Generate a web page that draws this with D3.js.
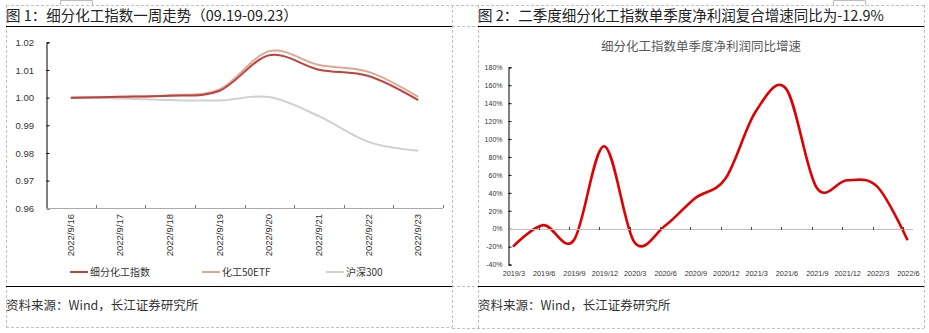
<!DOCTYPE html>
<html><head><meta charset="utf-8">
<script src="https://cdn.jsdelivr.net/npm/d3@7"></script>
<style>
html,body{margin:0;padding:0;background:#fff;}
svg{display:block;font-family:"Liberation Sans",Arial,"Noto Sans CJK SC",sans-serif;}
</style></head>
<body>
<svg id="c" width="929" height="333"></svg>
<script>
// ---- Chart 1 data ----
const dates = ["2022/9/16","2022/9/17","2022/9/18","2022/9/19","2022/9/20","2022/9/21","2022/9/22","2022/9/23"];
const chemIndex = [1.000, 1.0003, 1.0007, 1.0025, 1.0153, 1.0101, 1.0078, 0.9991];
const chemETF   = [1.000, 1.0003, 1.0009, 1.0030, 1.0168, 1.0118, 1.0093, 1.0003];
const hs300     = [1.000, 0.9997, 0.9991, 0.9990, 1.0002, 0.9933, 0.9840, 0.9808];
const seriesNames = ["细分化工指数","化工50ETF","沪深300"];
const yTicks1 = [0.96,0.97,0.98,0.99,1.00,1.01,1.02];

// ---- Chart 2 data ----
const quarters = ["2019/3","2019/6","2019/9","2019/12","2020/3","2020/6","2020/9","2020/12","2021/3","2021/6","2021/9","2021/12","2022/3","2022/6"];
const profitGrowth = [-20, 4, -13, 92, -15, 3, 34, 56, 131, 156, 46, 54, 47, -12.9];
const yTicks2 = [-40,-20,0,20,40,60,80,100,120,140,160,180];

const svg = d3.select("#c");
const dash = "3,2", dashCol = "#c0c0c0";
const cjk = '"Noto Sans CJK SC","Liberation Sans",sans-serif';

function hline(x1,x2,y,col,dashed,w){svg.append("line").attr("x1",x1).attr("x2",x2).attr("y1",y).attr("y2",y).attr("stroke",col).attr("stroke-width",w||1).attr("stroke-dasharray",dashed?dash:null).attr("shape-rendering","crispEdges");}
function vline(x,y1,y2,col,dashed,w){svg.append("line").attr("x1",x).attr("x2",x).attr("y1",y1).attr("y2",y2).attr("stroke",col).attr("stroke-width",w||1).attr("stroke-dasharray",dashed?dash:null).attr("shape-rendering","crispEdges");}

// frames
hline(6,924,5.5,dashCol,true);
vline(6.5,5,327,dashCol,true);
vline(452.5,5,327,dashCol,true);
vline(478.5,5,328,dashCol,true);
vline(924.5,5,328,dashCol,true);
hline(6,452,327.5,dashCol,true);
hline(452,924,328.5,dashCol,true);
hline(452,478,26.5,dashCol,true);
hline(452,478,286.5,dashCol,true);
hline(6,452,26.5,"#000",false,1.5);
hline(6,452,286.5,"#000",false,1.5);
hline(478,924,26.5,"#000",false,1.5);
hline(478,924,286.5,"#000",false,1.5);
// small residual boxes at top
svg.append("path").attr("d","M60.5,5 V0.5 H92.5 V5").attr("fill","none").attr("stroke","#bbb");
svg.append("path").attr("d","M833.5,5 V0.5 H865.5 V5").attr("fill","none").attr("stroke","#bbb");

// titles
svg.append("text").attr("x",6).attr("y",20.5).attr("font-family",cjk).attr("font-size",14.5).attr("fill","#222").text("图 1：细分化工指数一周走势（09.19-09.23）");
svg.append("text").attr("x",478).attr("y",20.5).attr("font-family",cjk).attr("font-size",14.5).attr("fill","#222").text("图 2：二季度细分化工指数单季度净利润复合增速同比为-12.9%");
svg.append("text").attr("x",6).attr("y",310).attr("font-family",cjk).attr("font-size",12.5).attr("fill","#333").text("资料来源：Wind，长江证券研究所");
svg.append("text").attr("x",478).attr("y",310).attr("font-family",cjk).attr("font-size",12.5).attr("fill","#333").text("资料来源：Wind，长江证券研究所");

// ---------- Chart 1 ----------
const x1 = d3.scaleBand().domain(dates).range([46,443]);
const y1 = d3.scaleLinear().domain([0.96,1.02]).range([208.3,42.3]);
const g1 = svg.append("g");
hline(46,443,208.5,"#aaa");
dates.forEach((d,i)=>{ if(i>0) vline(Math.round(x1(d))+0.5,205,208,"#777"); });
vline(443.5,205,208,"#777");
const ya1 = d3.axisLeft(y1).tickValues(yTicks1).tickFormat(d3.format(".2f")).tickSize(-3).tickPadding(12.5);
const ga1 = g1.append("g").attr("transform","translate(46.5,0)").call(ya1);
ga1.select(".domain").attr("stroke","#000");
ga1.selectAll(".tick line").attr("stroke","#000");
ga1.selectAll("text").attr("font-size",9.5).attr("fill","#333").attr("font-family","Liberation Sans, Arial, sans-serif");
dates.forEach(d=>{
  g1.append("text").attr("transform",`translate(${x1(d)+x1.bandwidth()/2+3},214) rotate(-90)`)
    .attr("text-anchor","end").attr("font-size",9.5).attr("fill","#333").text(d);
});
const colors1 = ["#c0413f","#dba893","#d0d0d0"];
const data1 = [chemIndex, chemETF, hs300];
const line1 = d3.line().x((v,i)=>x1(dates[i])+x1.bandwidth()/2).y(v=>y1(v)).curve(d3.curveCatmullRom.alpha(0));
[2,1,0].forEach(k=>{
  g1.append("path").attr("d",line1(data1[k])).attr("fill","none").attr("stroke",colors1[k]).attr("stroke-width",2);
});
const legX = [70,202,326];
seriesNames.forEach((n,k)=>{
  hline(legX[k],legX[k]+18,272,colors1[k],false,2.5);
  svg.append("text").attr("x",legX[k]+20).attr("y",275.5).attr("font-family",cjk).attr("font-size",10).attr("fill","#333").text(n);
});

// ---------- Chart 2 ----------
const x2 = d3.scalePoint().domain(quarters).range([513,907.6]);
const y2 = d3.scaleLinear().domain([-40,180]).range([264.6,67.3]);
const g2 = svg.append("g");
svg.append("text").attr("x",701).attr("y",51).attr("text-anchor","middle").attr("font-family",cjk).attr("font-size",12.5).attr("fill","#595959").text("细分化工指数单季度净利润同比增速");
hline(508.5,913,Math.round(y2(0))+0.5,"#bfbfbf");
quarters.forEach((q,i)=>{ if(i>0) vline(Math.round(x2(q)-4.7)+0.5,Math.round(y2(0))-2.5,Math.round(y2(0))+0.5,"#444"); });
const ya2 = d3.axisLeft(y2).tickValues(yTicks2).tickFormat(d=>d+"%").tickSize(-3).tickPadding(6);
const ga2 = g2.append("g").attr("transform","translate(508.5,0)").call(ya2);
ga2.select(".domain").attr("stroke","#000");
ga2.selectAll(".tick line").attr("stroke","#000");
ga2.selectAll("text").attr("font-size",7).attr("fill","#333").attr("font-family","Liberation Sans, Arial, sans-serif");
quarters.forEach(q=>{
  g2.append("text").attr("x",x2(q)+0.8).attr("y",276).attr("text-anchor","middle").attr("font-size",7.3).attr("fill","#333").text(q);
});
const line2 = d3.line().x((v,i)=>x2(quarters[i])).y(v=>y2(v)).curve(d3.curveCatmullRom.alpha(0));
g2.append("path").attr("d",line2(profitGrowth)).attr("fill","none").attr("stroke","#e00000").attr("stroke-width",2.6);
</script>
</body></html>
